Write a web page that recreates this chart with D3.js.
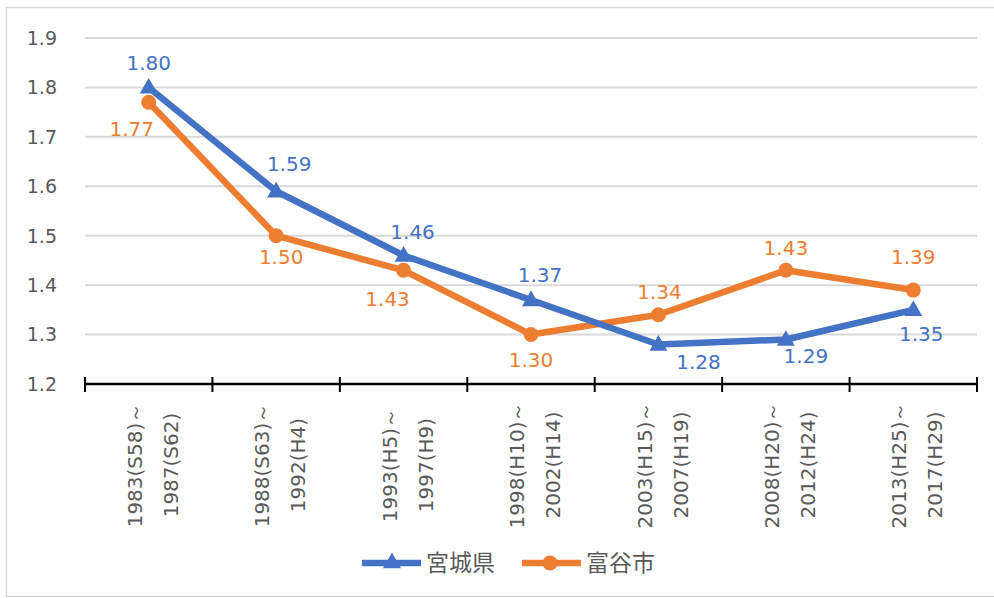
<!DOCTYPE html>
<html>
<head>
<meta charset="utf-8">
<script src="https://cdn.jsdelivr.net/npm/d3@7"></script>
<style>
  html, body { margin: 0; padding: 0; background: #ffffff; }
  svg { display: block; }
</style>
</head>
<body>
<div class="chart"></div>
<script>
/* Period labels, two lines each */
var periodStart = ["1983(S58)～", "1988(S63)～", "1993(H5)～", "1998(H10)～",
                   "2003(H15)～", "2008(H20)～", "2013(H25)～"];
var periodEnd = ["1987(S62)", "1992(H4)", "1997(H9)", "2002(H14)",
                 "2007(H19)", "2012(H24)", "2017(H29)"];
var miyagiValues = [1.80, 1.59, 1.46, 1.37, 1.28, 1.29, 1.35];
var tomiyaValues = [1.77, 1.50, 1.43, 1.30, 1.34, 1.43, 1.39];
var yTicks = [1.2, 1.3, 1.4, 1.5, 1.6, 1.7, 1.8, 1.9];
var seriesNames = ["宮城県", "富谷市"];

var WIDTH = 994;
var HEIGHT = 598;
var BLUE = "#4472C4";
var ORANGE = "#ED7D31";
var TEXT_GRAY = "#595959";
var NUM_FONT = "'DejaVu Sans', sans-serif";

/* Where each data label sits relative to its point (Excel put them by hand) */
var miyagiLabelShift = [[0, -25], [13, -27], [9, -24], [9, -25], [40, 17], [20, 16], [8, 24]];
var tomiyaLabelShift = [[-17, 27], [5, 21], [-16, 28], [0, 25], [1, -23], [0, -23], [0, -33]];

var svg = d3.select("div.chart")
            .append("svg")
            .attr("width", WIDTH)
            .attr("height", HEIGHT);

/* outer frame (right edge is cropped off in the original) */
svg.append("path")
   .attr("d", "M" + (WIDTH + 5) + ",7.5H6.5V596.5H" + (WIDTH + 5))
   .attr("fill", "none")
   .attr("stroke", "#d9d9d9")
   .attr("stroke-width", 1.5);

var x = d3.scaleBand().domain(d3.range(periodStart.length)).range([85, 977]);
var y = d3.scaleLinear().domain([1.2, 1.9]).range([384, 38]);
var xc = function centerOf(i) { return x(i) + x.bandwidth() / 2; };

/* gridlines */
svg.append("g")
   .selectAll("line")
   .data(yTicks.slice(1))
   .enter()
   .append("line")
   .attr("x1", 85).attr("x2", 977)
   .attr("y1", function (d) { return y(d); })
   .attr("y2", function (d) { return y(d); })
   .attr("stroke", "#d9d9d9")
   .attr("stroke-width", 2);

/* y labels */
svg.append("g")
   .selectAll("text")
   .data(yTicks)
   .enter()
   .append("text")
   .attr("x", 57)
   .attr("y", function (d) { return y(d); })
   .attr("dy", "0.36em")
   .attr("text-anchor", "end")
   .attr("fill", TEXT_GRAY)
   .style("font", "19px " + NUM_FONT)
   .text(function (d) { return d.toFixed(1); });

/* x axis line and tick marks at band edges */
var edges = x.domain().map(function (i) { return x(i); }).concat([x.range()[1]]);
svg.append("line")
   .attr("x1", 85).attr("x2", 977)
   .attr("y1", y(1.2)).attr("y2", y(1.2))
   .attr("stroke", "#000000")
   .attr("stroke-width", 2.5);
svg.append("g")
   .selectAll("line")
   .data(edges)
   .enter()
   .append("line")
   .attr("x1", function (d) { return d; })
   .attr("x2", function (d) { return d; })
   .attr("y1", y(1.2) - 7).attr("y2", y(1.2) + 8)
   .attr("stroke", "#000000")
   .attr("stroke-width", 2);

/* rotated period labels */
var labelGroups = svg.append("g")
   .selectAll("g")
   .data(x.domain())
   .enter()
   .append("g")
   .attr("transform", function (i) { return "translate(" + xc(i) + ",465) rotate(-90)"; });
labelGroups.append("text")
   .attr("x", 0).attr("y", -14)
   .attr("dy", "0.36em")
   .attr("text-anchor", "middle")
   .attr("fill", TEXT_GRAY)
   .style("font", "20px " + NUM_FONT)
   .text(function (i) { return periodStart[i]; });
labelGroups.append("text")
   .attr("x", 0).attr("y", 22)
   .attr("dy", "0.36em")
   .attr("text-anchor", "middle")
   .attr("fill", TEXT_GRAY)
   .style("font", "20px " + NUM_FONT)
   .text(function (i) { return periodEnd[i]; });

var line = d3.line()
             .x(function (d, i) { return xc(i); })
             .y(function (d) { return y(d); });

var triangle = d3.symbol().type(d3.symbolTriangle).size(140);

function drawSeries(values, color, isTriangle, shifts) {
  var g = svg.append("g");
  g.append("path")
   .datum(values)
   .attr("d", line)
   .attr("fill", "none")
   .attr("stroke", color)
   .attr("stroke-width", 6.5)
   .attr("stroke-linejoin", "round");
  if (isTriangle) {
    g.selectAll("path.marker")
     .data(values)
     .enter()
     .append("path")
     .attr("class", "marker")
     .attr("d", triangle)
     .attr("transform", function (d, i) { return "translate(" + xc(i) + "," + (y(d) + 1) + ")"; })
     .attr("fill", color);
  } else {
    g.selectAll("circle")
     .data(values)
     .enter()
     .append("circle")
     .attr("cx", function (d, i) { return xc(i); })
     .attr("cy", function (d) { return y(d); })
     .attr("r", 7.5)
     .attr("fill", color);
  }
  g.selectAll("text")
   .data(values)
   .enter()
   .append("text")
   .attr("x", function (d, i) { return xc(i) + shifts[i][0]; })
   .attr("y", function (d, i) { return y(d) + shifts[i][1]; })
   .attr("dy", "0.36em")
   .attr("text-anchor", "middle")
   .attr("fill", color)
   .style("font", "20px " + NUM_FONT)
   .text(function (d) { return d.toFixed(2); });
}

drawSeries(tomiyaValues, ORANGE, false, tomiyaLabelShift);
drawSeries(miyagiValues, BLUE, true, miyagiLabelShift);

/* legend */
var legend = svg.append("g").attr("transform", "translate(0,563)");
var legendItems = [
  { name: seriesNames[0], color: BLUE, x: 362, tri: true },
  { name: seriesNames[1], color: ORANGE, x: 522, tri: false }
];
legendItems.forEach(function (item) {
  legend.append("line")
        .attr("x1", item.x).attr("x2", item.x + 59)
        .attr("y1", 0).attr("y2", 0)
        .attr("stroke", item.color)
        .attr("stroke-width", 6.5);
  if (item.tri) {
    legend.append("path")
          .attr("d", triangle)
          .attr("transform", "translate(" + (item.x + 30) + ",0)")
          .attr("fill", item.color);
  } else {
    legend.append("circle")
          .attr("cx", item.x + 28).attr("cy", 0)
          .attr("r", 7.5)
          .attr("fill", item.color);
  }
  legend.append("text")
        .attr("x", item.x + 64)
        .attr("y", 0)
        .attr("dy", "0.36em")
        .attr("fill", TEXT_GRAY)
        .style("font", "23px 'Noto Sans CJK JP', sans-serif")
        .text(item.name);
});
</script>
</body>
</html>
